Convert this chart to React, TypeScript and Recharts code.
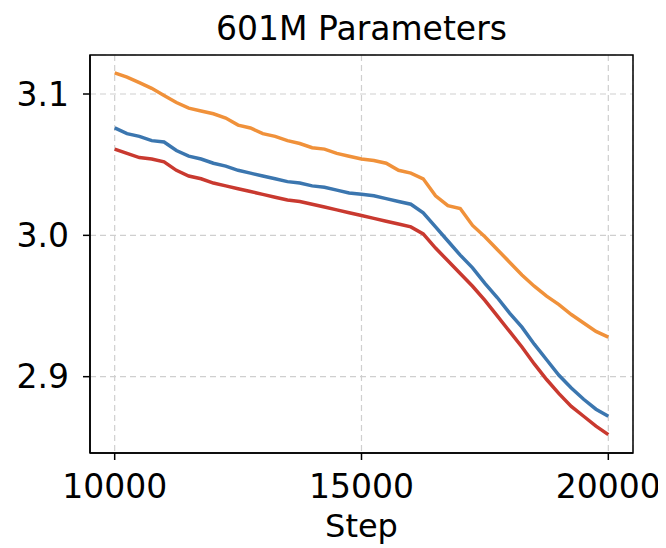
import React from 'react';
import { LineChart, Line, XAxis, YAxis, CartesianGrid, ReferenceArea } from 'recharts';

const steps = [
  10000, 10250, 10500, 10750, 11000, 11250, 11500, 11750, 12000, 12250,
  12500, 12750, 13000, 13250, 13500, 13750, 14000, 14250, 14500, 14750,
  15000, 15250, 15500, 15750, 16000, 16250, 16500, 16750, 17000, 17250,
  17500, 17750, 18000, 18250, 18500, 18750, 19000, 19250, 19500, 19750, 20000,
];

const orangeSeries = [
  3.115, 3.112, 3.108, 3.104, 3.099, 3.094, 3.090, 3.088, 3.086, 3.083,
  3.078, 3.076, 3.072, 3.070, 3.067, 3.065, 3.062, 3.061, 3.058, 3.056,
  3.054, 3.053, 3.051, 3.046, 3.044, 3.040, 3.028, 3.021, 3.019, 3.007,
  2.999, 2.990, 2.981, 2.972, 2.964, 2.957, 2.951, 2.944, 2.938, 2.932, 2.928,
];

const blueSeries = [
  3.076, 3.072, 3.070, 3.067, 3.066, 3.060, 3.056, 3.054, 3.051, 3.049,
  3.046, 3.044, 3.042, 3.040, 3.038, 3.037, 3.035, 3.034, 3.032, 3.030,
  3.029, 3.028, 3.026, 3.024, 3.022, 3.016, 3.006, 2.996, 2.986, 2.977,
  2.966, 2.956, 2.945, 2.935, 2.923, 2.912, 2.901, 2.892, 2.884, 2.877, 2.872,
];

const redSeries = [
  3.061, 3.058, 3.055, 3.054, 3.052, 3.046, 3.042, 3.040, 3.037, 3.035,
  3.033, 3.031, 3.029, 3.027, 3.025, 3.024, 3.022, 3.020, 3.018, 3.016,
  3.014, 3.012, 3.010, 3.008, 3.006, 3.001, 2.991, 2.982, 2.973, 2.964,
  2.954, 2.943, 2.932, 2.921, 2.909, 2.898, 2.888, 2.879, 2.872, 2.865, 2.859,
];

const xTicks = [10000, 15000, 20000];
const yTicks = [2.9, 3.0, 3.1];
const xDomain = [9500, 20500];
const yDomain = [2.846, 3.1276];
const title = '601M Parameters';
const xLabel = 'Step';

const data = steps.map((s, i) => ({
  step: s,
  orange: orangeSeries[i],
  blue: blueSeries[i],
  red: redSeries[i],
}));

const FONT = '"DejaVu Sans", sans-serif';
const FS = 33;

const W = 658;
const H = 540;
const margin = { top: 47, right: 33, left: 22, bottom: 0 };

export default function App() {
  return (
    <div style={{ position: 'relative', width: W, height: H }}>
      <LineChart width={W} height={H} data={data} margin={margin}>
        <CartesianGrid stroke="#cfcfcf" strokeDasharray="6 4" strokeWidth={1.2} />
        <XAxis
          dataKey="step"
          type="number"
          domain={xDomain}
          ticks={xTicks}
          allowDataOverflow
          height={95}
          tickSize={7}
          tickMargin={15}
          axisLine={{ stroke: '#000', strokeWidth: 1.5 }}
          tickLine={{ stroke: '#000', strokeWidth: 1.5 }}
          tick={{ fill: '#000', fontSize: FS, fontFamily: FONT }}
          label={(props: any) => {
            const vb = props.viewBox || {};
            return (
              <text
                x={vb.x + vb.width / 2}
                y={vb.y + 84}
                textAnchor="middle"
                fontSize={32}
                fontFamily={FONT}
                fill="#000"
              >
                {xLabel}
              </text>
            );
          }}
        />
        <YAxis
          type="number"
          domain={yDomain}
          ticks={yTicks}
          allowDataOverflow
          width={60}
          tickSize={7}
          tickMargin={14}
          tickFormatter={(v: number) => v.toFixed(1)}
          axisLine={{ stroke: '#000', strokeWidth: 1.5 }}
          tickLine={{ stroke: '#000', strokeWidth: 1.5 }}
          tick={{ fill: '#000', fontSize: FS, fontFamily: FONT }}
        />
        <ReferenceArea
          x1={xDomain[0]}
          x2={xDomain[1]}
          y1={yDomain[0]}
          y2={yDomain[1]}
          fill="none"
          fillOpacity={0}
          stroke="#000"
          strokeWidth={1.5}
          ifOverflow="visible"
        />
        <Line type="linear" dataKey="orange" stroke="#f0913a" strokeWidth={3.5} dot={false} isAnimationActive={false} />
        <Line type="linear" dataKey="blue" stroke="#3b76af" strokeWidth={3.5} dot={false} isAnimationActive={false} />
        <Line type="linear" dataKey="red" stroke="#c9392f" strokeWidth={3.5} dot={false} isAnimationActive={false} />
      </LineChart>
      <svg
        width={W}
        height={50}
        style={{ position: 'absolute', left: 0, top: 0, pointerEvents: 'none' }}
      >
        <text
          x={margin.left + 60 + (W - margin.left - 60 - margin.right) / 2}
          y={32}
          textAnchor="middle"
          fontSize={FS}
          fontFamily={FONT}
          fill="#000"
        >
          {title}
        </text>
      </svg>
    </div>
  );
}
